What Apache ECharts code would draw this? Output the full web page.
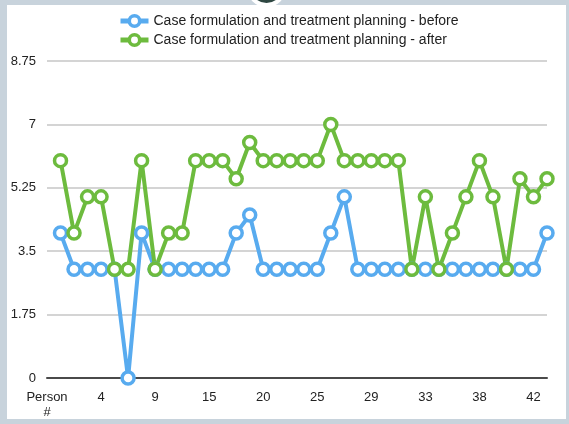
<!DOCTYPE html>
<html>
<head>
<meta charset="utf-8">
<script src="https://cdn.jsdelivr.net/npm/echarts@6/dist/echarts.min.js"></script>
<style>
  html, body { margin: 0; padding: 0; }
  body { width: 569px; height: 424px; background: #c8d3dc; position: relative; overflow: hidden; }
  #panel { position: absolute; left: 7px; top: 5px; width: 559px; height: 414px; background: #ffffff; }
  #chart { position: absolute; left: 0; top: 0; width: 569px; height: 424px; }
</style>
</head>
<body>
<div id="panel"></div>
<div id="chart"></div>
<script>
// Person numbers along the x axis (first slot holds the axis caption)
const persons = ['Person #',
  '1', '2', '3', '4', '5', '6', '8', '9', '10', '12', '13', '15',
  '16', '17', '18', '20', '21', '22', '24', '25', '26', '27', '28', '29',
  '30', '31', '32', '33', '34', '36', '37', '38', '39', '40', '41', '42', '43'];

// Ratings before the training
const before = [null,
  4, 3, 3, 3, 3, 0, 4, 3, 3, 3, 3, 3,
  3, 4, 4.5, 3, 3, 3, 3, 3, 4, 5, 3, 3,
  3, 3, 3, 3, 3, 3, 3, 3, 3, 3, 3, 3, 4];

// Ratings after the training
const after = [null,
  6, 4, 5, 5, 3, 3, 6, 3, 4, 4, 6, 6,
  6, 5.5, 6.5, 6, 6, 6, 6, 6, 7, 6, 6, 6,
  6, 6, 3, 5, 3, 4, 5, 6, 5, 3, 5.5, 5, 5.5];

const yTicks = { min: 0, max: 8.75, step: 1.75 };

const seriesNames = [
  'Case formulation and treatment planning - before',
  'Case formulation and treatment planning - after'
];
const BLUE = '#58abef';
const GREEN = '#6dbb3e';

const chart = echarts.init(document.getElementById('chart'), null, { renderer: 'canvas' });

function lineSeries(name, data, color) {
  return {
    name: name,
    type: 'line',
    data: data,
    symbol: 'circle',
    symbolSize: 12,
    showAllSymbol: true,
    connectNulls: false,
    lineStyle: { color: color, width: 4 },
    itemStyle: { color: '#ffffff', borderColor: color, borderWidth: 3.5 },
    emphasis: { disabled: true },
    animation: false
  };
}

chart.setOption({
  animation: false,
  textStyle: { fontFamily: 'Liberation Sans, Arial, sans-serif' },
  graphic: [{
    type: 'circle',
    shape: { cx: 266.5, cy: -13, r: 18 },
    style: { fill: '#2e4742', stroke: '#ffffff', lineWidth: 4 },
    silent: true
  }],
  legend: {
    orient: 'vertical',
    left: 113,
    top: 9,
    itemGap: 5,
    itemWidth: 28,
    itemHeight: 13,
    lineStyle: { width: 5 },
    itemStyle: { borderWidth: 3.5 },
    textStyle: { fontSize: 14, color: '#222' },
    data: seriesNames
  },
  grid: { left: 47, right: 22, top: 61, bottom: 46, containLabel: false },
  xAxis: {
    type: 'category',
    data: persons,
    boundaryGap: false,
    axisLine: { lineStyle: { color: '#4a4a4a', width: 2 } },
    axisTick: { show: false },
    axisLabel: {
      interval: 3,
      color: '#222',
      fontSize: 13,
      margin: 12,
      lineHeight: 15,
      formatter: v => v.replace(' ', '\n')
    },
    splitLine: { show: false }
  },
  yAxis: {
    type: 'value',
    min: yTicks.min,
    max: yTicks.max,
    interval: yTicks.step,
    axisLine: { show: false },
    axisTick: { show: false },
    axisLabel: { color: '#222', fontSize: 13, margin: 11 },
    splitLine: { lineStyle: { color: '#d4d4d4', width: 2 } }
  },
  series: [
    lineSeries(seriesNames[0], before, BLUE),
    lineSeries(seriesNames[1], after, GREEN)
  ]
});
</script>
</body>
</html>
